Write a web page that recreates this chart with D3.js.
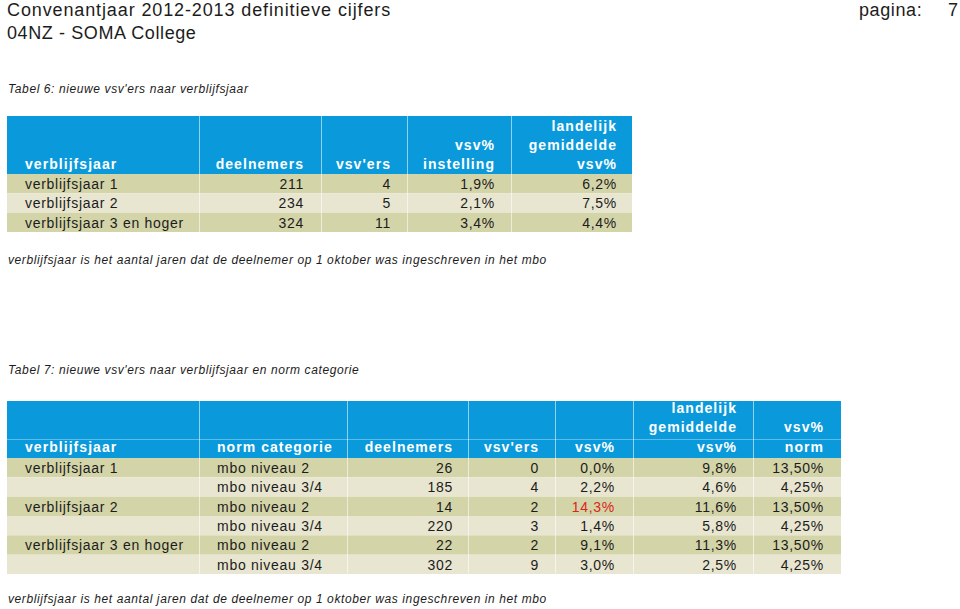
<!DOCTYPE html>
<html><head><meta charset="utf-8">
<script src="https://cdn.jsdelivr.net/npm/d3@7"></script>
<style>
html,body{margin:0;padding:0;background:#fff;}
svg{display:block;font-family:"Liberation Sans",Arial,Helvetica,sans-serif;}
</style></head>
<body>
<svg id="chart" width="960" height="609"></svg>
<script>
// ---------- DATA ----------
const pageTitle = "Convenantjaar 2012-2013 definitieve cijfers";
const pageSubtitle = "04NZ - SOMA College";
const pageLabel = "pagina:";
const pageNumber = "7";

const t6Caption = "Tabel 6: nieuwe vsv'ers naar verblijfsjaar";
const t6Headers = [["verblijfsjaar"], ["deelnemers"], ["vsv'ers"], ["vsv%", "instelling"], ["landelijk", "gemiddelde", "vsv%"]];
const t6Categories = ["verblijfsjaar 1", "verblijfsjaar 2", "verblijfsjaar 3 en hoger"];
const t6Deelnemers = [211, 234, 324];
const t6Vsvers = [4, 5, 11];
const t6VsvPct = [1.9, 2.1, 3.4];
const t6Landelijk = [6.2, 7.5, 4.4];

const footnote = "verblijfsjaar is het aantal jaren dat de deelnemer op 1 oktober was ingeschreven in het mbo";

const t7Caption = "Tabel 7: nieuwe vsv'ers naar verblijfsjaar en norm categorie";
const t7Headers = [["verblijfsjaar"], ["norm categorie"], ["deelnemers"], ["vsv'ers"], ["vsv%"], ["landelijk", "gemiddelde", "vsv%"], ["vsv%", "norm"]];
const t7Years = ["verblijfsjaar 1", "", "verblijfsjaar 2", "", "verblijfsjaar 3 en hoger", ""];
const t7Norm = ["mbo niveau 2", "mbo niveau 3/4", "mbo niveau 2", "mbo niveau 3/4", "mbo niveau 2", "mbo niveau 3/4"];
const t7Deelnemers = [26, 185, 14, 220, 22, 302];
const t7Vsvers = [0, 4, 2, 3, 2, 9];
const t7VsvPct = [0.0, 2.2, 14.3, 1.4, 9.1, 3.0];
const t7Landelijk = [9.8, 4.6, 11.6, 5.8, 11.3, 2.5];
const t7NormPct = [13.50, 4.25, 13.50, 4.25, 13.50, 4.25];

// ---------- STYLE / LAYOUT ----------
const BLUE = "#0a9adb", ROW_DARK = "#d4d4a9", ROW_LIGHT = "#e8e6d1", TEXT = "#1c1c1c", RED = "#d9261c";
const fmt1 = v => d3.format(".1f")(v).replace(".", ",") + "%";
const fmt2 = v => d3.format(".2f")(v).replace(".", ",") + "%";
const svg = d3.select("#chart");

function drawTable(cfg) {
  const g = svg.append("g");
  const nCols = cfg.edges.length - 1;
  const nRows = cfg.rows.length;
  const y = d3.scaleBand().domain(d3.range(nRows)).range([cfg.headBottom, cfg.bottom]).paddingInner(0);
  const colX = i => cfg.edges[i];
  g.append("rect").attr("x", colX(0)).attr("y", cfg.top).attr("width", colX(nCols) - colX(0))
    .attr("height", cfg.headBottom - cfg.top).attr("fill", BLUE);
  if (cfg.headLine) {
    g.append("line").attr("x1", colX(0)).attr("x2", colX(nCols)).attr("y1", cfg.headLine).attr("y2", cfg.headLine)
      .attr("stroke", "#5bbde8").attr("stroke-width", 1);
  }
  g.selectAll("rect.row").data(cfg.rows).join("rect").attr("class", "row")
    .attr("x", colX(0)).attr("y", (d, i) => y(i)).attr("width", colX(nCols) - colX(0))
    .attr("height", y.bandwidth()).attr("fill", (d, i) => i % 2 === 0 ? ROW_DARK : ROW_LIGHT);
  g.selectAll("line.sep").data(d3.range(1, nCols)).join("line").attr("class", "sep")
    .attr("x1", i => colX(i) + 0.5).attr("x2", i => colX(i) + 0.5)
    .attr("y1", cfg.top).attr("y2", cfg.bottom).attr("stroke", "#ffffff").attr("stroke-opacity", 0.55);
  cfg.headers.forEach((lines, c) => {
    const anchorEnd = cfg.align[c] === "end";
    const xx = anchorEnd ? colX(c + 1) - cfg.padR[c] : colX(c) + cfg.padL[c];
    g.selectAll(null).data(lines).join("text")
      .attr("x", xx)
      .attr("y", (d, k) => cfg.headBase - (lines.length - 1 - k) * cfg.lineH)
      .attr("text-anchor", anchorEnd ? "end" : "start")
      .attr("fill", "#ffffff").attr("font-size", 14).attr("font-weight", "bold")
      .attr("letter-spacing", "1.05px").text(d => d);
  });
  cfg.rows.forEach((row, r) => {
    row.forEach((cell, c) => {
      const anchorEnd = cfg.align[c] === "end";
      const xx = anchorEnd ? colX(c + 1) - cfg.padR[c] : colX(c) + cfg.padL[c];
      g.append("text").attr("x", xx).attr("y", y(r) + y.bandwidth() - 4.5)
        .attr("text-anchor", anchorEnd ? "end" : "start")
        .attr("fill", cell.color || TEXT).attr("font-size", 14).attr("letter-spacing", "0.72px")
        .text(cell.text);
    });
  });
}

function caption(text, yy) {
  svg.append("text").attr("x", 8).attr("y", yy).attr("font-size", 12).attr("font-style", "italic")
    .attr("letter-spacing", "0.6px").attr("fill", TEXT).text(text);
}

svg.append("text").attr("x", 7).attr("y", 16).attr("font-size", 18).attr("fill", TEXT).attr("letter-spacing", "0.88px").text(pageTitle);
svg.append("text").attr("x", 7).attr("y", 39).attr("font-size", 18).attr("fill", TEXT).attr("letter-spacing", "0.6px").text(pageSubtitle);
svg.append("text").attr("x", 859).attr("y", 16).attr("font-size", 18).attr("fill", TEXT).attr("letter-spacing", "0.6px").text(pageLabel);
svg.append("text").attr("x", 958).attr("y", 16).attr("font-size", 18).attr("fill", TEXT).attr("text-anchor", "end").text(pageNumber);

caption(t6Caption, 93);
drawTable({
  edges: [7, 199, 321, 407, 511, 632],
  top: 116, headBottom: 174, bottom: 232, headBase: 169, lineH: 19,
  align: ["start", "end", "end", "end", "end"],
  padL: [18, 0, 0, 0, 0], padR: [0, 17, 16, 16, 15],
  headers: t6Headers,
  rows: t6Categories.map((c, i) => [
    { text: c }, { text: String(t6Deelnemers[i]) }, { text: String(t6Vsvers[i]) },
    { text: fmt1(t6VsvPct[i]) }, { text: fmt1(t6Landelijk[i]) }
  ])
});
caption(footnote, 264);

caption(t7Caption, 374);
drawTable({
  edges: [7, 199, 347, 468, 555, 633, 753, 841],
  top: 401, headBottom: 458, bottom: 574, headBase: 451.5, lineH: 19.3, headLine: 439.5,
  align: ["start", "start", "end", "end", "end", "end", "end"],
  padL: [18, 18, 0, 0, 0, 0, 0], padR: [0, 0, 15, 16, 18, 16, 17],
  headers: t7Headers,
  rows: t7Years.map((c, i) => [
    { text: c }, { text: t7Norm[i] }, { text: String(t7Deelnemers[i]) }, { text: String(t7Vsvers[i]) },
    { text: fmt1(t7VsvPct[i]), color: t7VsvPct[i] > t7NormPct[i] ? RED : null },
    { text: fmt1(t7Landelijk[i]) }, { text: fmt2(t7NormPct[i]) }
  ])
});
caption(footnote, 603);
</script>
</body></html>
